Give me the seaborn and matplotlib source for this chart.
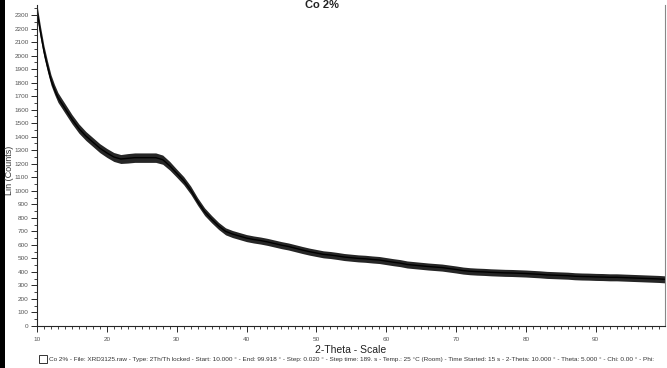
import numpy as np
import pandas as pd
import matplotlib
matplotlib.use("Agg")
import matplotlib.pyplot as plt
import matplotlib.ticker as ticker
from matplotlib.patches import Rectangle
import seaborn as sns

# 2-theta positions (deg) and counts
two_theta = [10, 10.5, 11, 11.5, 12, 12.5, 13, 13.5, 14, 15, 16, 17, 18, 19, 20,
             21, 22, 23, 24, 25, 26, 27, 28, 29, 30, 31, 32, 33, 34, 35, 36, 37,
             38, 39, 40, 41, 42, 43, 44, 45, 46, 47, 48, 49, 50, 51, 52, 53, 54,
             55, 56, 57, 58, 59, 60, 61, 62, 63, 64, 65, 66, 67, 68, 69, 70, 71,
             72, 73, 74, 75, 76, 77, 78, 79, 80, 81, 82, 83, 84, 85, 86, 87, 88,
             89, 90, 91, 92, 93, 94, 95, 96, 97, 98, 99, 99.9]
counts = [2330, 2170, 2030, 1920, 1820, 1750, 1690, 1650, 1610, 1530, 1460, 1405,
          1360, 1315, 1280, 1250, 1235, 1240, 1245, 1245, 1245, 1245, 1230, 1185,
          1130, 1075, 1005, 920, 845, 790, 740, 700, 680, 665, 650, 640, 632, 622,
          610, 598, 588, 575, 562, 550, 540, 530, 525, 518, 510, 505, 500, 497,
          492, 488, 480, 472, 465, 455, 450, 445, 440, 436, 432, 425, 418, 410,
          405, 402, 400, 397, 395, 393, 392, 390, 388, 385, 382, 378, 376, 374,
          372, 368, 366, 365, 363, 362, 360, 360, 358, 356, 354, 352, 350, 348, 345]
# half-width of the noise band seen around the trace
noise = [45, 45, 42, 40, 38, 36, 36, 35, 35, 34, 34, 33, 33, 33, 33, 33, 33, 35,
         35, 35, 35, 35, 34, 32, 30, 30, 30, 28, 28, 27, 26, 26, 26, 26, 26, 26,
         26, 26, 26, 26, 26, 26, 26, 26, 26, 26, 26, 26, 26, 26, 26, 26, 26, 26,
         26, 26, 26, 26, 26, 26, 26, 26, 26, 26, 26, 26, 26, 26, 26, 26, 26, 26,
         26, 26, 26, 26, 26, 26, 26, 26, 26, 26, 26, 26, 26, 26, 26, 26, 26, 26,
         26, 26, 26, 26, 26]

footer = ("Co 2% - File: XRD3125.raw - Type: 2Th/Th locked - Start: 10.000 \u00b0 - "
          "End: 99.918 \u00b0 - Step: 0.020 \u00b0 - Step time: 189. s - Temp.: 25 \u00b0C (Room) - "
          "Time Started: 15 s - 2-Theta: 10.000 \u00b0 - Theta: 5.000 \u00b0 - Chi: 0.00 \u00b0 - Phi:")

df = pd.DataFrame({"two_theta": two_theta, "counts": counts, "noise": noise})

sns.set_style("ticks")
plt.rcParams["font.family"] = ["Liberation Sans", "DejaVu Sans"]

fig = plt.figure(figsize=(6.67, 3.68), dpi=100)
ax = fig.add_axes([37 / 667, 42 / 368, 628 / 667, 321 / 368])

ax.fill_between(df["two_theta"], df["counts"] - df["noise"], df["counts"] + df["noise"],
                color="black", alpha=0.85, linewidth=0)
sns.lineplot(data=df, x="two_theta", y="counts", ax=ax, color="black", linewidth=1.0)

ax.set_xlim(10, 99.918)
ax.set_ylim(0, 2374)
ax.xaxis.set_major_locator(ticker.MultipleLocator(10))
ax.xaxis.set_minor_locator(ticker.MultipleLocator(1))
ax.yaxis.set_major_locator(ticker.FixedLocator(range(0, 2301, 100)))
ax.yaxis.set_minor_locator(ticker.FixedLocator(range(50, 2351, 100)))
ax.tick_params(axis="both", which="major", labelsize=4.6, labelcolor="#555555", length=4, width=0.7)
ax.tick_params(axis="both", which="minor", length=2, width=0.6)
ax.tick_params(axis="x", pad=4)
ax.tick_params(axis="y", pad=2)

ax.spines["top"].set_visible(False)
ax.spines["right"].set_color("#888888")
ax.spines["right"].set_linewidth(0.8)
ax.spines["left"].set_linewidth(0.8)
ax.spines["bottom"].set_linewidth(0.8)

ax.set_xlabel("2-Theta - Scale", fontsize=7.5, color="#222222", labelpad=2)
ax.set_ylabel("")
fig.text(10 / 667, 1 - 170 / 368, "Lin (Counts)", rotation=90, fontsize=6.5,
         color="#333333", ha="center", va="center")

fig.text(322 / 667, 1.0, "Co 2%", fontsize=8, fontweight="bold",
         ha="center", va="top", color="#222222")

fig.patches.append(Rectangle((39 / 667, 1 - 363 / 368), 8 / 667, 8 / 368, transform=fig.transFigure,
                             facecolor="white", edgecolor="#333333", linewidth=0.7))
fig.text(49 / 667, 1 - 359 / 368, footer, fontsize=4.6, color="#333333", ha="left", va="center")

fig.patches.append(Rectangle((0, 0), 5 / 667, 1, transform=fig.transFigure,
                             facecolor="black", edgecolor="none"))

fig.savefig("out.png", dpi=100)
